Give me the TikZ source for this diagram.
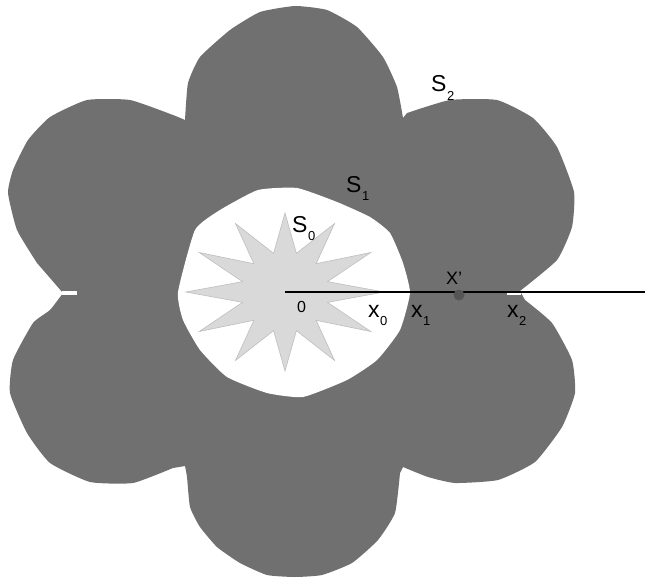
\documentclass[tikz,border=0pt]{standalone}
\usepackage{fontspec}
\setmainfont{Liberation Sans}
\definecolor{petal}{RGB}{112,112,112}
\definecolor{starfillc}{RGB}{217,217,217}
\definecolor{stardrawc}{RGB}{190,190,190}
\definecolor{dotc}{RGB}{85,85,85}
\newcommand\lsub[1]{\kern0.5pt\raisebox{-8.5pt}{\fontsize{13}{13}\selectfont #1}}
\begin{document}
\begin{tikzpicture}[x=1pt,y=-1pt,
  lbl/.style={inner sep=0pt, anchor=base west, font=\fontsize{23}{23}\selectfont, text=black},
  flowerfill/.style={fill=petal, draw=none},
  holefill/.style={fill=white, draw=none},
  lobe/.style={smooth, tension=0.3},
  starshape/.style={fill=starfillc, draw=stardrawc, line width=0.6pt, line join=miter},
  ray/.style={draw=black, line width=1.5pt},
  dotstyle/.style={circle, fill=dotc, minimum size=11pt, inner sep=0pt}]
\useasboundingbox (0,0) rectangle (645,578);
% outer flower S2
\path[flowerfill] (185,120)
 -- plot[lobe] coordinates {(185,120) (188,83) (200,57) (230,30) (260,12) (295,6) (327,10) (357,27) (383,57) (397,87) (403,118)}
 -- plot[lobe] coordinates {(407,113) (450,100) (497,100) (533,118) (557,147) (574,192) (572,227) (557,260) (520,291)}
 -- plot[lobe] coordinates {(525,300) (552,323) (572,360) (575,393) (562,427) (535,462) (498,480) (455,483) (428,477) (403,467)}
 -- plot[lobe] coordinates {(400,473) (395,513) (378,540) (352,563) (322,575) (295,577) (267,575) (240,563) (217,547) (200,527) (190,507) (187,477) (185,466)}
 -- plot[lobe] coordinates {(173,468) (133,483) (90,482) (50,463) (27,433) (10,393) (13,360) (33,323) (50,310) (63,293)}
 -- plot[lobe] coordinates {(37,263) (17,230) (8,193) (13,170) (28,140) (50,117) (87,100) (130,100) (173,115) (185,120)}
 -- cycle;
% slits at the side clefts
\path[holefill] (62,290.5) rectangle (77,294.5);
\path[holefill] (507,290.5) rectangle (521,294.5);
% inner region S1
\path[holefill] plot[smooth cycle, tension=0.3] coordinates {(178,292) (183,320) (200,350) (227,377) (267,393) (303,397)
 (347,380) (377,360) (400,330) (410,293) (403,263) (390,233) (370,217)
 (337,202) (297,188) (258,190) (220,210) (195,230)};
% star S0
\coordinate (O) at (285,292);
\begin{scope}[shift={(O)}]
\draw[starshape] (0:99pt and 79pt) -- (15:44pt and 40pt)
  \foreach \a in {30,60,...,330}{ -- (\a:99pt and 79pt) -- (\a+15:44pt and 40pt)} -- cycle;
\end{scope}
% ray
\coordinate (E) at (645,292);
\draw[ray] (O) -- (E);
\node[dotstyle] (dot) at (459,295) {};
% labels
\node[lbl] (s0) at (292,232) {S\lsub{0}};
\node[lbl] (s1) at (346,192) {S\lsub{1}};
\node[lbl] (s2) at (431,92) {S\lsub{2}};
\node[lbl, font=\fontsize{16}{16}\selectfont] (zero) at (297,312) {0};
\node[lbl] (x0) at (368,317) {x\lsub{0}};
\node[lbl] (x1) at (411,317) {x\lsub{1}};
\node[lbl] (x2) at (507,317) {x\lsub{2}};
\node[lbl, font=\fontsize{18}{18}\selectfont] (xp) at (446,284) {X'};
\end{tikzpicture}
\end{document}
